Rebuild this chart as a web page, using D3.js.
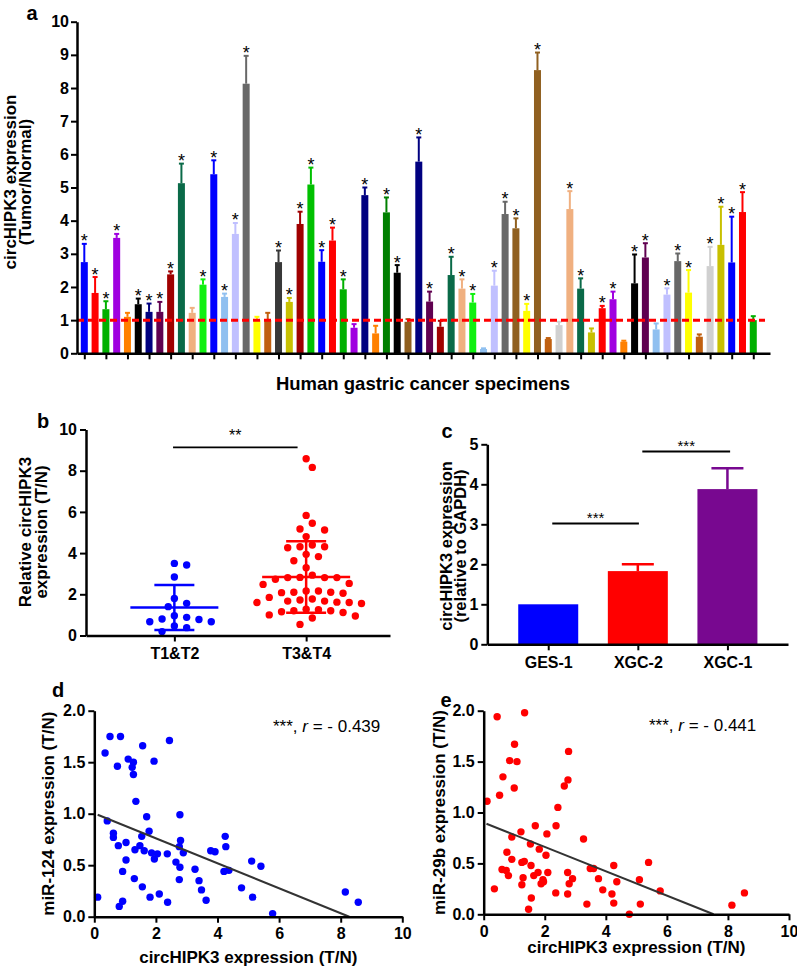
<!DOCTYPE html>
<html><head><meta charset="utf-8">
<script src="https://cdn.jsdelivr.net/npm/d3@7"></script>
<style>body{margin:0;background:#fff;} svg{display:block;}</style>
</head><body><svg id="fig" width="797" height="971"></svg>
<script>
// ---------------- DATA ----------------
// Panel a: 63 specimens (Tumor/Normal ratio), SEM, significance, colours
const barValues = [2.75,1.82,1.33,3.48,1.10,1.48,1.25,1.25,2.38,5.13,1.22,2.07,5.40,1.70,3.60,8.13,1.00,1.00,2.75,1.55,
  3.90,5.09,2.76,3.40,1.93,0.77,4.77,0.60,4.25,2.43,0.95,5.78,1.56,0.80,2.36,1.95,1.53,0.13,2.04,4.20,
  3.77,1.28,8.54,0.43,0.85,4.35,1.95,0.63,1.36,1.63,0.35,2.11,2.89,0.72,1.77,2.78,1.83,0.50,2.63,3.27,
  2.74,4.26,1.00];
const barSEM = [0.55,0.48,0.24,0.12,0.12,0.17,0.25,0.30,0.09,0.59,0.15,0.16,0.42,0.10,0.33,0.84,0.10,0.22,0.35,0.12,
  0.37,0.51,0.35,0.39,0.30,0.11,0.23,0.23,0.45,0.23,0.08,0.73,0.30,0.18,0.55,0.28,0.26,0.02,0.45,0.37,
  0.30,0.21,0.53,0.03,0.10,0.54,0.31,0.12,0.07,0.23,0.03,0.87,0.43,0.18,0.19,0.23,0.68,0.07,0.58,1.15,
  1.38,0.60,0.12];
const barSig = [1,1,1,1,0,1,1,1,1,1,0,1,1,1,1,1,0,0,1,1,
  1,1,1,1,1,0,1,0,1,1,0,1,1,0,1,1,1,0,1,1,
  1,1,1,0,0,1,1,0,1,1,0,1,1,0,1,1,1,0,1,1,
  1,1,0];
const barColors = ["#0000ff","#ff0000","#00b000","#a000e0","#ff8000","#000000","#000080","#600050","#a00000","#0a6a48",
  "#f0b080","#10f010","#0000ff","#90c0f0","#c0c0ff","#686868","#ffff00","#c06010","#383838","#c8c000",
  "#a00000","#00c000","#0000ff","#ff0000","#00b000","#a000e0","#000080","#ff8000","#008000","#000000",
  "#906020","#000080","#600050","#a00000","#0a6a48","#f0b080","#10f010","#90c0f0","#c0c0ff","#686868",
  "#906020","#ffff00","#906020","#c06010","#d0d0d0","#f0b080","#0a6a48","#c8c000","#ff0000","#a000e0",
  "#ff8000","#000000","#600050","#90c0f0","#c0c0ff","#686868","#ffff00","#c06010","#d0d0d0","#c8c000",
  "#0000ff","#ff0000","#00b000"];
const aTicks = [0,1,2,3,4,5,6,7,8,9,10];

// Panel b
const bGroups = ["T1&T2","T3&T4"];
const bT12 = [3.42,3.50,2.84,1.80,1.56,1.40,0.96,0.88,0.67,0.80,0.78,0.67,0.46,0.38,0.19];
const bT34 = [8.16,8.58,5.83,5.45,5.17,5.12,4.80,4.31,4.26,4.31,4.39,3.83,3.94,3.63,3.29,2.93,2.81,2.81,2.73,2.81,
  2.82,2.48,2.53,2.16,2.10,2.05,2.08,2.10,2.16,1.77,1.67,1.60,1.55,1.60,1.62,1.67,1.72,1.85,1.20,1.15,
  1.25,1.28,1.20,1.12,0.95,0.85,1.00,0.54];
const bMean = [1.36, 2.84];
const bSD = [1.09, 1.74];
const bTicks = [0,2,4,6,8,10];

// Panel c
const cCategories = ["GES-1","XGC-2","XGC-1"];
const cValues = [1.00, 1.83, 3.88];
const cErr = [0, 0.17, 0.52];
const cColors = ["#0000ff","#ff0000","#780890"];
const cTicks = [0,1,2,3,4,5];

// Panel d
const dX = [0.11,0.35,0.51,0.85,0.75,0.42,0.62,0.62,0.78,1.03,1.03,0.92,0.81,0.92,1.10,1.27,1.23,1.27,1.57,1.35,
  1.32,1.30,1.48,1.54,1.62,1.56,1.70,1.78,1.86,1.95,2.05,1.81,2.11,1.94,2.44,2.37,2.38,2.65,2.78,2.80,
  2.76,2.89,2.78,2.76,3.27,3.40,3.48,3.63,3.78,3.92,4.25,4.27,4.21,4.37,4.78,5.11,5.41,5.14,5.79,8.15,8.57];
const dY = [0.19,1.59,1.75,1.75,1.46,0.93,0.81,0.77,0.69,0.72,0.55,0.44,0.10,0.15,1.53,1.50,1.45,1.38,1.66,1.12,
  0.65,0.37,0.69,0.78,0.64,0.29,0.97,0.83,0.62,0.56,0.61,0.19,0.22,1.51,1.71,0.61,0.14,0.53,0.99,0.74,
  0.68,0.62,0.48,0.36,0.46,0.35,0.26,0.16,0.64,0.63,0.78,0.68,0.44,0.45,0.28,0.54,0.49,0.19,0.03,0.24,0.14];
const dFitX = [0.11, 8.28];
const dFitY = [0.99, 0.00];

// Panel e
const eX = [0.11,0.44,1.34,0.35,0.52,0.63,0.85,1.01,1.09,1.00,0.76,0.92,0.92,0.60,0.74,0.81,1.22,1.25,1.33,1.29,
  1.25,1.53,1.55,1.64,1.56,1.47,1.69,1.82,1.78,1.88,1.94,1.96,2.04,2.07,2.10,2.37,2.43,2.36,2.64,2.76,
  2.78,2.75,2.80,2.91,2.75,3.27,3.49,3.60,3.38,3.76,3.90,4.26,4.36,4.20,4.26,4.77,5.10,5.40,5.13,5.78,8.13,8.54];
const eY = [1.11,1.94,1.98,0.25,1.17,1.35,1.51,1.67,1.50,1.24,0.61,0.76,0.54,0.44,0.43,0.38,0.81,0.51,0.52,0.36,
  0.29,0.69,0.48,0.38,0.16,0.05,0.87,0.64,0.41,0.30,0.34,0.32,0.58,0.79,0.41,0.87,1.05,0.21,1.26,1.32,
  1.60,0.41,0.30,0.35,0.20,0.74,0.45,0.45,0.10,0.35,0.24,0.48,0.32,0.20,0.11,0.00,0.34,0.51,0.10,0.23,0.09,0.21];
const eFitX = [0.09, 7.53];
const eFitY = [0.89, 0.00];
const scatXTicks = [0,2,4,6,8,10];
const scatYTicks = [0,0.5,1,1.5,2];

// ---------------- DRAWING ----------------
const FONT = "'Liberation Sans', Arial, Helvetica, sans-serif";
const svg = d3.select('#fig');
svg.append('rect').attr('width',797).attr('height',971).attr('fill','#fff');

function text(g, x, y, s, size, opt={}) {
  return g.append('text').attr('x',x).attr('y',y)
    .attr('font-family',FONT).attr('font-size',size)
    .attr('font-weight', opt.weight||'bold')
    .attr('text-anchor', opt.anchor||'middle').attr('fill','#000').text(s);
}
function vtext(g, x, y, s, size) {
  return g.append('text').attr('transform',`translate(${x},${y}) rotate(-90)`)
    .attr('font-family',FONT).attr('font-size',size).attr('font-weight','bold')
    .attr('text-anchor','middle').attr('fill','#000').text(s);
}
function styleAxis(g, size) {
  g.attr('font-family',FONT).attr('font-size',size).attr('font-weight','bold');
  g.select('.domain').attr('stroke','#000').attr('stroke-width',2.5);
  g.selectAll('.tick line').attr('stroke','#000').attr('stroke-width',2);
  g.selectAll('.tick text').attr('fill','#000');
}
const intFmt = d3.format('d');

// ===== Panel a =====
const gA = svg.append('g');
const ya = d3.scaleLinear().domain([0,10]).range([353.3,21.7]);
const xa = d3.scaleLinear().domain([-0.677,63.55]).range([77,770]);
const bw = 7;
gA.selectAll('rect.bar').data(barValues).join('rect').attr('class','bar')
  .attr('x',(d,i)=>xa(i)-bw/2).attr('width',bw)
  .attr('y',d=>ya(d)).attr('height',d=>ya(0)-ya(d))
  .attr('fill',(d,i)=>barColors[i]);
gA.selectAll('line.err').data(barValues).join('line').attr('class','err')
  .attr('x1',(d,i)=>xa(i)).attr('x2',(d,i)=>xa(i))
  .attr('y1',d=>ya(d)).attr('y2',(d,i)=>ya(d+barSEM[i]))
  .attr('stroke',(d,i)=>barColors[i]).attr('stroke-width',2);
gA.selectAll('line.cap').data(barValues).join('line').attr('class','cap')
  .attr('x1',(d,i)=>xa(i)-2.5).attr('x2',(d,i)=>xa(i)+2.5)
  .attr('y1',(d,i)=>ya(d+barSEM[i])).attr('y2',(d,i)=>ya(d+barSEM[i]))
  .attr('stroke',(d,i)=>barColors[i]).attr('stroke-width',2);
gA.selectAll('text.star').data(barValues.map((v,i)=>({v,i})).filter(o=>barSig[o.i]))
  .join('text').attr('class','star')
  .attr('x',o=>xa(o.i)).attr('y',o=>ya(o.v+barSEM[o.i])+3.5)
  .attr('text-anchor','middle').attr('font-family',FONT).attr('font-size',18)
  .attr('fill','#000').text('*');
gA.append('line').attr('x1',77).attr('x2',765).attr('y1',ya(1)).attr('y2',ya(1))
  .attr('stroke','#ff0000').attr('stroke-width',3).attr('stroke-dasharray','7,4');
const axAy = gA.append('g').attr('transform','translate(77,0)')
  .call(d3.axisLeft(ya).tickValues(aTicks).tickFormat(intFmt).tickSize(6).tickSizeOuter(0).tickPadding(2));
styleAxis(axAy,16);
const axAx = gA.append('g').attr('transform',`translate(0,${ya(0)})`)
  .call(d3.axisBottom(xa).tickValues(d3.range(0,63,2)).tickFormat('').tickSize(6).tickSizeOuter(0));
styleAxis(axAx,16);
text(gA, 32, 20, 'a', 20);
vtext(gA, 15.5, 182, 'circHIPK3 expression', 17);
vtext(gA, 30.5, 182, '(Tumor/Normal)', 17);
text(gA, 423, 390, 'Human gastric cancer specimens', 18.5);

// ===== Panel b =====
const gB = svg.append('g');
const yb = d3.scaleLinear().domain([0,10]).range([635.5,429.5]);
const xb = d3.scaleLinear().domain([-0.6705,1.6363]).range([86,390]);
function swarm(vals, cx, yS, step, D) {
  const order = vals.map((v,i)=>({v,i})).sort((a,b)=>b.v-a.v);
  const placed = [];
  for (const p of order) {
    const y = yS(p.v);
    for (let n=0; n<400; n++) {
      const k = Math.ceil(n/2) * (n%2===1 ? 1 : -1);
      const x = cx + k*step;
      if (!placed.some(q => (q.x-x)**2 + (q.y-y)**2 < D*D)) { placed.push({x,y,v:p.v}); break; }
    }
  }
  return placed;
}
const bColors = ["#0000ff","#ff0000"];
[bT12, bT34].forEach((vals, gi) => {
  const cx = xb(gi);
  const pts = swarm(vals, cx, yb, 6.15, 9.5);
  gB.selectAll(null).data(pts).join('circle')
    .attr('cx',p=>p.x).attr('cy',p=>p.y).attr('r',3.7).attr('fill',bColors[gi]);
  const m = bMean[gi], s = bSD[gi];
  gB.append('line').attr('x1',cx-44).attr('x2',cx+44).attr('y1',yb(m)).attr('y2',yb(m))
    .attr('stroke',bColors[gi]).attr('stroke-width',2.5);
  gB.append('line').attr('x1',cx).attr('x2',cx).attr('y1',yb(m-s)).attr('y2',yb(m+s))
    .attr('stroke',bColors[gi]).attr('stroke-width',2.5);
  [m-s, m+s].forEach(v => gB.append('line').attr('x1',cx-20).attr('x2',cx+20)
    .attr('y1',yb(v)).attr('y2',yb(v)).attr('stroke',bColors[gi]).attr('stroke-width',2.5));
});
const axBy = gB.append('g').attr('transform','translate(86,0)')
  .call(d3.axisLeft(yb).tickValues(bTicks).tickFormat(intFmt).tickSize(6).tickSizeOuter(0).tickPadding(3));
styleAxis(axBy,16);
const axBx = gB.append('g').attr('transform',`translate(0,${yb(0)})`)
  .call(d3.axisBottom(xb).tickValues([0,1]).tickFormat(i=>bGroups[i]).tickSize(6).tickSizeOuter(0).tickPadding(6));
styleAxis(axBx,16);
gB.append('line').attr('x1',xb(-0.01)).attr('x2',xb(0.935)).attr('y1',447.3).attr('y2',447.3)
  .attr('stroke','#000').attr('stroke-width',1.8);
text(gB, (xb(-0.01)+xb(0.935))/2, 441, '**', 16, {weight:'normal'});
text(gB, 43, 428, 'b', 20);
vtext(gB, 31, 532, 'Relative circHIPK3', 17);
vtext(gB, 47, 532, 'expression (T/N)', 17);

// ===== Panel c =====
const gC = svg.append('g');
const yc = d3.scaleLinear().domain([0,5]).range([644.3,444.3]);
const xc = d3.scaleLinear().domain([-0.68,2.676]).range([487.3,788]);
gC.selectAll('rect').data(cValues).join('rect')
  .attr('x',(d,i)=>xc(i)-30).attr('width',60)
  .attr('y',d=>yc(d)).attr('height',d=>yc(0)-yc(d)).attr('fill',(d,i)=>cColors[i]);
cValues.forEach((v,i)=>{
  if (cErr[i] > 0) {
    gC.append('line').attr('x1',xc(i)).attr('x2',xc(i)).attr('y1',yc(v)).attr('y2',yc(v+cErr[i]))
      .attr('stroke',cColors[i]).attr('stroke-width',2.5);
    gC.append('line').attr('x1',xc(i)-16).attr('x2',xc(i)+16).attr('y1',yc(v+cErr[i])).attr('y2',yc(v+cErr[i]))
      .attr('stroke',cColors[i]).attr('stroke-width',2.5);
  }
});
const axCy = gC.append('g').attr('transform','translate(487.3,0)')
  .call(d3.axisLeft(yc).tickValues(cTicks).tickFormat(intFmt).tickSize(6).tickSizeOuter(0).tickPadding(3));
styleAxis(axCy,16);
const axCx = gC.append('g').attr('transform',`translate(0,${yc(0)})`)
  .call(d3.axisBottom(xc).tickValues([0,1,2]).tickFormat(i=>cCategories[i]).tickSize(6).tickSizeOuter(0).tickPadding(6));
styleAxis(axCx,16);
// significance bars
[[0.045,1.012,3.02],[1.05,2.03,4.82]].forEach(([a,b,v])=>{
  gC.append('line').attr('x1',xc(a)).attr('x2',xc(b)).attr('y1',yc(v)).attr('y2',yc(v))
    .attr('stroke','#000').attr('stroke-width',1.8);
  text(gC,(xc(a)+xc(b))/2, yc(v)-1, '***', 15, {weight:'normal'});
});
text(gC, 447, 438, 'c', 20);
vtext(gC, 452, 546, 'circHIPK3 expression', 16.5);
vtext(gC, 466, 546, '(relative to GAPDH)', 16.5);

// ===== Panels d & e =====
function scatter(cfg) {
  const g = svg.append('g');
  const x = d3.scaleLinear().domain([0,10]).range([cfg.x0, cfg.x1]);
  const y = d3.scaleLinear().domain([0,2]).range([cfg.y0, cfg.y1]);
  g.selectAll('circle').data(cfg.xs).join('circle')
    .attr('cx',d=>x(d)).attr('cy',(d,i)=>y(cfg.ys[i])).attr('r',3.7).attr('fill',cfg.color);
  g.append('line').attr('x1',x(cfg.fitX[0])).attr('x2',x(cfg.fitX[1]))
    .attr('y1',y(cfg.fitY[0])).attr('y2',y(cfg.fitY[1]))
    .attr('stroke','#333').attr('stroke-width',2);
  const ay = g.append('g').attr('transform',`translate(${cfg.x0},0)`)
    .call(d3.axisLeft(y).tickValues(scatYTicks).tickFormat(d3.format('.1f')).tickSize(6).tickSizeOuter(0).tickPadding(3));
  styleAxis(ay,16);
  const ax = g.append('g').attr('transform',`translate(0,${cfg.y0})`)
    .call(d3.axisBottom(x).tickValues(scatXTicks).tickFormat(intFmt).tickSize(6).tickSizeOuter(0).tickPadding(5));
  styleAxis(ax,16);
  text(g, (cfg.x0+cfg.x1)/2, cfg.titleY, 'circHIPK3 expression (T/N)', 17);
  vtext(g, cfg.ylabX, (cfg.y0+cfg.y1)/2, cfg.ylab, 17);
  const t = g.append('text').attr('x',cfg.annX).attr('y',cfg.annY)
    .attr('font-family',FONT).attr('font-size',17).attr('fill','#000');
  t.append('tspan').text('***, ');
  t.append('tspan').attr('font-style','italic').text('r');
  t.append('tspan').text(' = - ' + cfg.r);
  text(g, cfg.lblX, cfg.lblY, cfg.lbl, 20);
}
scatter({x0:94.3, x1:402.3, y0:916.7, y1:710.7, xs:dX, ys:dY, color:'#0000ff', fitX:dFitX, fitY:dFitY,
  titleY:963, ylab:'miR-124 expression (T/N)', ylabX:53.5, annX:273, annY:731.5, r:'0.439',
  lbl:'d', lblX:58, lblY:697});
scatter({x0:483.7, x1:789, y0:914.3, y1:710.7, xs:eX, ys:eY, color:'#ff0000', fitX:eFitX, fitY:eFitY,
  titleY:953, ylab:'miR-29b expression (T/N)', ylabX:444.5, annX:649, annY:730.5, r:'0.441',
  lbl:'e', lblX:446, lblY:707});
</script></body></html>
